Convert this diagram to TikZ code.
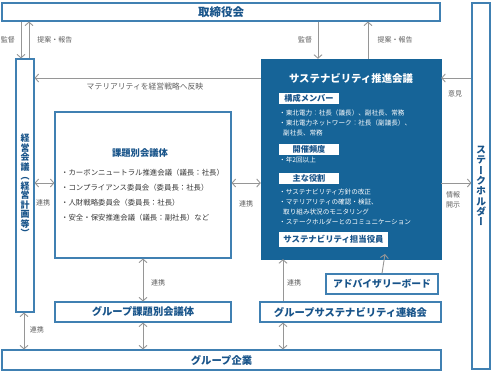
\documentclass[tikz,border=0pt]{standalone}
\usepackage{fontspec}
\setmainfont{Noto Sans CJK JP}
\newfontfamily\vfont[RawFeature=+vert]{Noto Sans CJK JP}
\usetikzlibrary{arrows.meta}
\definecolor{dblue}{RGB}{22,100,152}
\definecolor{tblue}{RGB}{24,84,138}
\definecolor{bline}{RGB}{64,128,178}
\definecolor{agray}{RGB}{150,150,150}
\definecolor{lgray}{RGB}{95,95,95}
\definecolor{ttext}{RGB}{55,55,55}
\begin{document}
\begin{tikzpicture}[x=1pt,y=-1pt,
 box/.style={draw=bline,line width=1.1pt,fill=white,inner sep=0pt,font=\bfseries\fontsize{10.3}{12}\selectfont,text=tblue},
 lbl/.style={text=lgray,font=\fontsize{7}{9}\selectfont,inner sep=0pt,align=center},
 tip/.style={Straight Barb[length=3.5pt,width=8pt]},
 arr/.style={draw=agray,line width=0.9pt,-{Straight Barb[length=3.5pt,width=8pt]}},
 darr/.style={draw=agray,line width=0.9pt,{Straight Barb[length=3.5pt,width=8pt]}-{Straight Barb[length=3.5pt,width=8pt]}},
 sec/.style={fill=white,text=tblue,inner sep=0pt,font=\bfseries\fontsize{8.2}{10}\selectfont,minimum width=60pt,minimum height=11pt},
 item/.style={anchor=west,inner sep=0pt,text=white,font=\fontsize{6.6}{8}\selectfont},
 citem/.style={anchor=west,inner sep=0pt,text=ttext,font=\fontsize{7.4}{9}\selectfont},
]
\useasboundingbox[fill=white] (0,0) rectangle (491,372);

% boxes
\node[box,minimum width=438pt,minimum height=18pt,font=\bfseries\fontsize{11.5}{13}\selectfont] (board) at (221,12) {取締役会};
\node[box,minimum width=18pt,minimum height=366pt] (stake) at (481,186) {};
\node[text=tblue,font=\vfont\bfseries\fontsize{10}{10.3}\selectfont,align=center,inner sep=0pt] (staketxt) at (481,186) {ス\\テ\\ー\\ク\\ホ\\ル\\ダ\\ー};
\node[box,minimum width=18pt,minimum height=253pt] (keiei) at (25,185.5) {};
\node[text=tblue,font=\vfont\bfseries\fontsize{9}{9.5}\selectfont,align=center,inner sep=0pt] (keieitxt) at (25,185.5) {経\\営\\会\\議\\（\\経\\営\\計\\画\\等\\）};
\node[box,minimum width=176pt,minimum height=146pt] (kadai) at (143,185) {};
\node[draw=dblue,fill=dblue,minimum width=180pt,minimum height=200pt,inner sep=0pt] (sus) at (351,159) {};
\node[box,minimum width=176pt,minimum height=20pt] (gkadai) at (143,312) {グループ課題別会議体};
\node[box,minimum width=181pt,minimum height=20pt] (gsus) at (350.5,312) {グループサステナビリティ連絡会};
\node[box,minimum width=112pt,minimum height=20pt,font=\bfseries\fontsize{9.8}{12}\selectfont] (adv) at (382,284) {アドバイザリーボード};
\node[box,minimum width=439pt,minimum height=20pt] (group) at (221.5,360) {グループ企業};

% kadai content
\node[text=tblue,font=\bfseries\fontsize{9.3}{11}\selectfont,inner sep=0pt] (kadaititle) at (140,153) {課題別会議体};
\node[citem] (c1) at (61,173) {・カーボンニュートラル推進会議（議長：社長）};
\node[citem] (c2) at (61,188) {・コンプライアンス委員会（委員長：社長）};
\node[citem] (c3) at (61,203) {・人財戦略委員会（委員長：社長）};
\node[citem] (c4) at (61,218) {・安全・保安推進会議（議長：副社長）など};

% sus content
\node[text=white,font=\bfseries\fontsize{10.4}{12}\selectfont,inner sep=0pt] (sustitle) at (351,78) {サステナビリティ推進会議};
\node[sec] (s1) at (309,98.5) {構成メンバー};
\node[item] (i1) at (279,113) {・東北電力：社長（議長）、副社長、常務};
\node[item] (i2) at (279,123) {・東北電力ネットワーク：社長（副議長）、};
\node[item] (i3) at (283,133) {副社長、常務};
\node[sec] (s2) at (309,149) {開催頻度};
\node[item] (i4) at (279,160) {・年2回以上};
\node[sec] (s3) at (309,178.5) {主な役割};
\node[item] (i5) at (279,192) {・サステナビリティ方針の改正};
\node[item] (i6) at (279,202) {・マテリアリティの確認・検証、};
\node[item] (i7) at (283,212) {取り組み状況のモニタリング};
\node[item] (i8) at (279,222) {・ステークホルダーとのコミュニケーション};
\node[sec,minimum width=109pt,minimum height=15pt,font=\bfseries\fontsize{8.4}{10}\selectfont] (s4) at (333.5,239.5) {サステナビリティ担当役員};

% helper coordinates
\coordinate (x21) at (21,0);
\coordinate (x29) at (29,0);
\coordinate (x24) at (24,0);
\coordinate (x318) at (318,0);
\coordinate (x368) at (368,0);
\coordinate (x143) at (143,0);
\coordinate (x283) at (283,0);
\coordinate (y78) at (0,78);
\coordinate (y183) at (0,183);
\coordinate (advtip) at (385,254);

% connectors
\draw[arr] (board.south -| x21) -- (keiei.north -| x21);
\draw[arr] (keiei.north -| x29) -- (board.south -| x29);
\draw[arr] (board.south -| x318) -- (sus.north -| x318);
\draw[arr] (sus.north -| x368) -- (board.south -| x368);
\draw[arr] (sus.west |- y78) -- (keiei.east |- y78);
\draw[arr] (stake.west |- y78) -- (sus.east |- y78);
\draw[arr] (sus.east |- y183) -- (stake.west |- y183);
\draw[darr] (keiei.east |- y183) -- (kadai.west |- y183);
\draw[darr] (kadai.east |- y183) -- (sus.west |- y183);
\draw[darr] (kadai.south -| x143) -- (gkadai.north -| x143);
\draw[arr] (gsus.north -| x283) -- (sus.south -| x283);
\draw[arr] (adv.north |- adv.north) -- (advtip);
\draw[darr] (gkadai.south -| x143) -- (group.north -| x143);
\draw[darr] (gsus.south -| x283) -- (group.north -| x283);
\draw[darr] (keiei.south -| x24) -- (group.north -| x24);

% labels
\node[lbl] (l1) at (8,40) {監督};
\node[lbl] (l2) at (55,40) {提案・報告};
\node[lbl] (l3) at (305,40) {監督};
\node[lbl] (l4) at (395,40) {提案・報告};
\node[lbl,font=\fontsize{7.8}{9}\selectfont] (l5) at (145,87) {マテリアリティを経営戦略へ反映};
\node[lbl] (l6) at (455,94) {意見};
\node[lbl,font=\fontsize{7}{10}\selectfont] (l7) at (453,200) {情報\\開示};
\node[lbl] (l8) at (43,203) {連携};
\node[lbl] (l9) at (246,204) {連携};
\node[lbl] (l10) at (158,283) {連携};
\node[lbl] (l11) at (294,283) {連携};
\node[lbl] (l12) at (37,330) {連携};
\end{tikzpicture}
\end{document}
